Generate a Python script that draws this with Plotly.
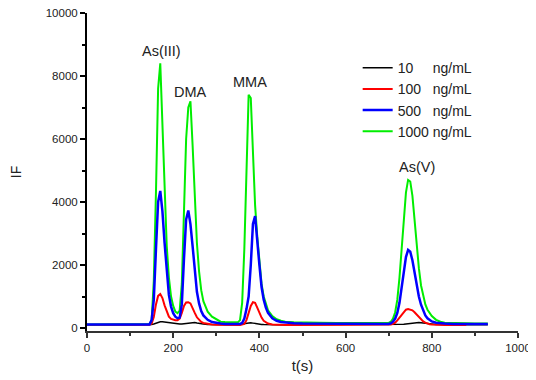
import plotly.graph_objects as go

# time axis (s)
t = [0, 20, 40, 60, 80, 100, 120, 140,
     145, 150, 155, 160, 165, 170, 175, 180, 185, 190, 195, 200, 205, 210, 215,
     220, 225, 230, 235, 240, 245, 250, 255, 260, 265, 270,
     280, 290, 300, 310, 320, 330, 340, 350,
     355, 360, 365, 370, 375, 380, 385, 390, 395, 400, 405, 410, 415, 420,
     430, 440, 450, 460, 480, 500, 540, 580, 620, 660, 690, 700,
     705, 710, 715, 720, 725, 730, 735, 740, 745, 750, 755, 760, 765, 770,
     775, 780, 785, 790, 795, 800,
     810, 820, 830, 850, 880, 900, 930]

if_1000 = [110, 110, 110, 110, 110, 110, 110, 115,
           130, 250, 1500, 4300, 7600, 8400, 6500, 4000, 2600, 1600, 1000, 700, 520, 470, 550,
           1400, 3800, 6000, 7000, 7200, 5800, 4200, 2700, 1800, 1200, 850,
           520, 360, 280, 200, 190, 185, 180, 180,
           250, 800, 2500, 4800, 7400, 7300, 5500, 3900, 2900, 2100, 1400, 1000, 750, 560,
           380, 280, 230, 200, 180, 170, 165, 160, 160, 155, 150, 160,
           200, 300, 500, 900, 1600, 2500, 3500, 4300, 4700, 4650, 4200, 3400, 2600, 1900,
           1350, 1000, 750, 580, 470, 380,
           260, 200, 170, 155, 150, 145, 145]

if_500 = [110, 110, 110, 110, 110, 110, 110, 110,
          115, 250, 900, 2500, 4000, 4350, 3700, 2700, 1700, 1050, 680, 470, 360, 310, 330,
          750, 2200, 3450, 3730, 3300, 2600, 1750, 1150, 780, 540, 400,
          260, 190, 160, 140, 130, 125, 120, 120,
          130, 160, 300, 600, 1000, 2000, 3300, 3550, 2700, 2000, 1300, 900, 650, 480,
          310, 230, 190, 170, 150, 140, 135, 130, 130, 125, 125, 130,
          150, 200, 300, 480, 800, 1250, 1800, 2250, 2480, 2420, 2150, 1750, 1350, 1000,
          740, 540, 400, 310, 250, 210,
          170, 150, 140, 130, 125, 125, 125]

if_100 = [95, 95, 95, 95, 95, 95, 95, 95,
          100, 140, 350, 750, 1020, 1080, 950, 720, 500, 360, 290, 260, 250, 250, 300,
          480, 700, 810, 820, 780, 650, 480, 340, 250, 190, 160,
          130, 110, 100, 95, 95, 95, 95, 95,
          98, 105, 130, 250, 450, 700, 820, 800, 650, 480, 330, 230, 170, 140,
          115, 105, 100, 98, 95, 95, 95, 95, 95, 95, 95, 100,
          110, 130, 170, 240, 330, 430, 520, 580, 600, 590, 560, 500, 420, 340,
          270, 210, 170, 140, 120, 110,
          100, 95, 95, 95, 95, None, None]

if_10 = [95, 95, 95, 95, 95, 95, 95, 95,
         100, 110, 130, 160, 190, 200, 200, 190, 175, 160, 150, 140, 130, 125, 125,
         130, 140, 150, 165, 175, 180, 175, 160, 145, 135, 125,
         115, 110, 105, 100, 100, 100, 105, 110,
         120, 135, 150, 165, 170, 165, 155, 140, 130, 120, 115, 110, 105, 100,
         100, 100, 100, 100, 100, 100, 100, 100, 100, 100, 100, 100,
         100, 100, 100, 105, 110, 115, 120, 130, 140, 150, 160, 170, 175, 175,
         170, 160, 150, 140, 130, 120,
         115, 110, 105, 105, 100, 100, 100]

series_names = ["10\u00a0\u00a0\u00a0\u00a0\u00a0ng/mL", "100\u00a0\u00a0\u00a0ng/mL",
                "500\u00a0\u00a0\u00a0ng/mL", "1000 ng/mL"]

peak_labels = ["As(III)", "DMA", "MMA", "As(V)"]
peak_x = [174, 239, 378, 766]
peak_y = [8780, 7500, 7820, 5100]

x_ticks = [0, 200, 400, 600, 800, 1000]
y_ticks = [0, 2000, 4000, 6000, 8000, 10000]
y_ticktext = ["0", "2000", "4000", "6000", "8000", "10000"]

FONT = "Liberation Sans, Arial, sans-serif"

fig = go.Figure()
# draw order: black, red, green, blue (legend order via legendrank)
fig.add_trace(go.Scatter(x=t, y=if_10, mode="lines", name=series_names[0],
                         line=dict(color="#000000", width=1.5), legendrank=1))
fig.add_trace(go.Scatter(x=t, y=if_100, mode="lines", name=series_names[1],
                         line=dict(color="#ff0000", width=2), legendrank=2))
fig.add_trace(go.Scatter(x=t, y=if_1000, mode="lines", name=series_names[3],
                         line=dict(color="#00ee00", width=2), legendrank=4))
fig.add_trace(go.Scatter(x=t, y=if_500, mode="lines", name=series_names[2],
                         line=dict(color="#0000ff", width=2.5), legendrank=3))

for lab, px, py in zip(peak_labels, peak_x, peak_y):
    fig.add_annotation(x=px, y=py, text=lab, showarrow=False,
                       font=dict(family=FONT, size=14.5, color="#222222"))

# the page body adds an 8px offset; margins compensate for it
fig.update_layout(
    width=536, height=380,
    margin=dict(l=79, r=26, t=5, b=57),
    paper_bgcolor="white", plot_bgcolor="white",
    font=dict(family=FONT, size=12, color="#222222"),
    showlegend=True,
    legend=dict(x=0.628, y=0.877, xanchor="left", yanchor="top",
                bgcolor="rgba(0,0,0,0)", font=dict(family=FONT, size=14, color="#222222"),
                tracegroupgap=0, itemwidth=30),
)
fig.update_xaxes(range=[0, 1000], tickvals=x_ticks, automargin=False,
                 showgrid=False, zeroline=False, showline=True,
                 linecolor="#333333", linewidth=2, ticks="outside", ticklen=5,
                 tickwidth=1.5, tickcolor="#333333", ticklabeloverflow="allow",
                 minor=dict(tickvals=[100, 300, 500, 700, 900], ticklen=3, ticks="outside",
                            tickcolor="#333333", showgrid=False),
                 tickfont=dict(family=FONT, size=11.5, color="#222222"),
                 title=dict(text="t(s)", font=dict(family=FONT, size=15, color="#222222"),
                            standoff=8))
fig.update_yaxes(range=[-95, 10000], tickvals=y_ticks, ticktext=y_ticktext, automargin=False,
                 showgrid=False, zeroline=False, showline=True,
                 linecolor="#000000", linewidth=2, ticks="outside", ticklen=5,
                 tickwidth=1.5, tickcolor="#000000", ticklabeloverflow="allow",
                 minor=dict(tickvals=[1000, 3000, 5000, 7000, 9000], ticklen=3, ticks="outside",
                            tickcolor="#000000", showgrid=False),
                 tickfont=dict(family=FONT, size=11.5, color="#222222"),
                 title=dict(text="IF", font=dict(family=FONT, size=14, color="#222222"),
                            standoff=23))

fig.write_html("out.html")
